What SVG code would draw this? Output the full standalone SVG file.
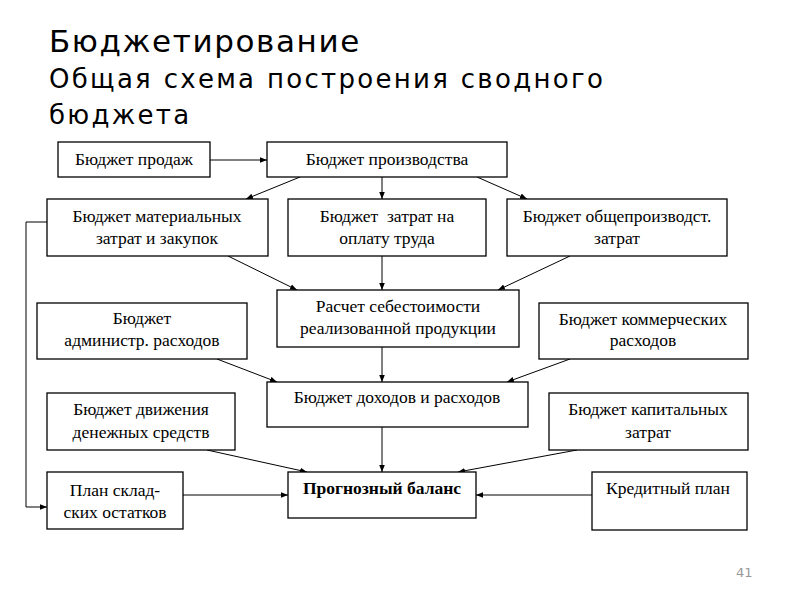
<svg xmlns="http://www.w3.org/2000/svg" width="800" height="600" viewBox="0 0 800 600">
<defs>
<marker id="ah" viewBox="0 0 10 10" refX="10" refY="5" markerWidth="7" markerHeight="7" markerUnits="userSpaceOnUse" orient="auto">
<path d="M0,1 L10,5 L0,9 Z" fill="#000"/>
</marker>
<style>
.bx{fill:#fff;stroke:#000;stroke-width:1.3}
.t{font-family:"Liberation Serif","Times New Roman",serif;font-size:17.5px;fill:#000;text-anchor:middle}
.b{font-weight:bold}
.c{fill:none;stroke:#000;stroke-width:1;marker-end:url(#ah)}
.h{font-family:"DejaVu Sans",sans-serif;fill:#000}
</style>
</defs>
<rect width="800" height="600" fill="#fff"/>
<text class="h" x="49" y="52" font-size="31" letter-spacing="1.6">Бюджетирование</text>
<text class="h" x="49" y="88" font-size="26" letter-spacing="2.3">Общая схема построения сводного</text>
<text class="h" x="49" y="124" font-size="26" letter-spacing="2.3">бюджета</text>

<g id="connectors">
<line class="c" x1="210" y1="160" x2="267" y2="160"/>
<line class="c" x1="300" y1="177" x2="246" y2="199"/>
<line class="c" x1="382" y1="177" x2="382" y2="199"/>
<line class="c" x1="477" y1="177" x2="527" y2="199"/>
<line class="c" x1="228" y1="256" x2="297" y2="290"/>
<line class="c" x1="382" y1="256" x2="382" y2="290"/>
<line class="c" x1="570" y1="256" x2="498" y2="290"/>
<line class="c" x1="217" y1="359" x2="277" y2="382"/>
<line class="c" x1="382" y1="347" x2="382" y2="382"/>
<line class="c" x1="570" y1="359" x2="507" y2="382"/>
<line class="c" x1="207" y1="450" x2="307" y2="472"/>
<line class="c" x1="382" y1="427" x2="382" y2="472"/>
<line class="c" x1="577" y1="450" x2="458" y2="472"/>
<line class="c" x1="183" y1="495" x2="288" y2="495"/>
<line class="c" x1="592" y1="495" x2="476" y2="495"/>
<polyline class="c" points="47,222 26,222 26,507 47,507"/>
</g>

<g id="n1"><rect class="bx" x="58" y="142" width="152" height="35"/><text class="t" x="134" y="165">Бюджет продаж</text></g>
<g id="n2"><rect class="bx" x="267" y="142" width="240" height="35"/><text class="t" x="387" y="165">Бюджет производства</text></g>
<g id="n3"><rect class="bx" x="47" y="199" width="221" height="57"/><text class="t" x="157" y="222">Бюджет материальных</text><text class="t" x="157" y="244">затрат и закупок</text></g>
<g id="n4"><rect class="bx" x="288" y="199" width="198" height="57"/><text class="t" x="387" y="222" xml:space="preserve">Бюджет  затрат на</text><text class="t" x="387" y="244">оплату труда</text></g>
<g id="n5"><rect class="bx" x="507" y="199" width="220" height="57"/><text class="t" x="617" y="222">Бюджет общепроизводст.</text><text class="t" x="617" y="244">затрат</text></g>
<g id="n6"><rect class="bx" x="277" y="290" width="242" height="57"/><text class="t" x="398" y="312">Расчет себестоимости</text><text class="t" x="398" y="334">реализованной продукции</text></g>
<g id="n7"><rect class="bx" x="37" y="303" width="210" height="56"/><text class="t" x="142" y="324">Бюджет</text><text class="t" x="142" y="346">администр. расходов</text></g>
<g id="n8"><rect class="bx" x="539" y="303" width="209" height="56"/><text class="t" x="643" y="325">Бюджет коммерческих</text><text class="t" x="643" y="346">расходов</text></g>
<g id="n9"><rect class="bx" x="267" y="382" width="261" height="45"/><text class="t" x="397" y="403">Бюджет доходов и расходов</text></g>
<g id="n10"><rect class="bx" x="47" y="393" width="188" height="57"/><text class="t" x="141" y="415">Бюджет движения</text><text class="t" x="141" y="438">денежных средств</text></g>
<g id="n11"><rect class="bx" x="549" y="393" width="199" height="57"/><text class="t" x="648" y="415">Бюджет капитальных</text><text class="t" x="648" y="438">затрат</text></g>
<g id="n12"><rect class="bx" x="47" y="472" width="136" height="57"/><text class="t" x="115" y="496">План склад-</text><text class="t" x="115" y="518">ских остатков</text></g>
<g id="n13"><rect class="bx" x="288" y="472" width="188" height="46"/><text class="t b" x="382" y="494">Прогнозный баланс</text></g>
<g id="n14"><rect class="bx" x="592" y="472" width="155" height="58"/><text class="t" x="668" y="494">Кредитный план</text></g>
<text x="736" y="577" font-family="DejaVu Sans,sans-serif" font-size="13" fill="#999">41</text>
</svg>
